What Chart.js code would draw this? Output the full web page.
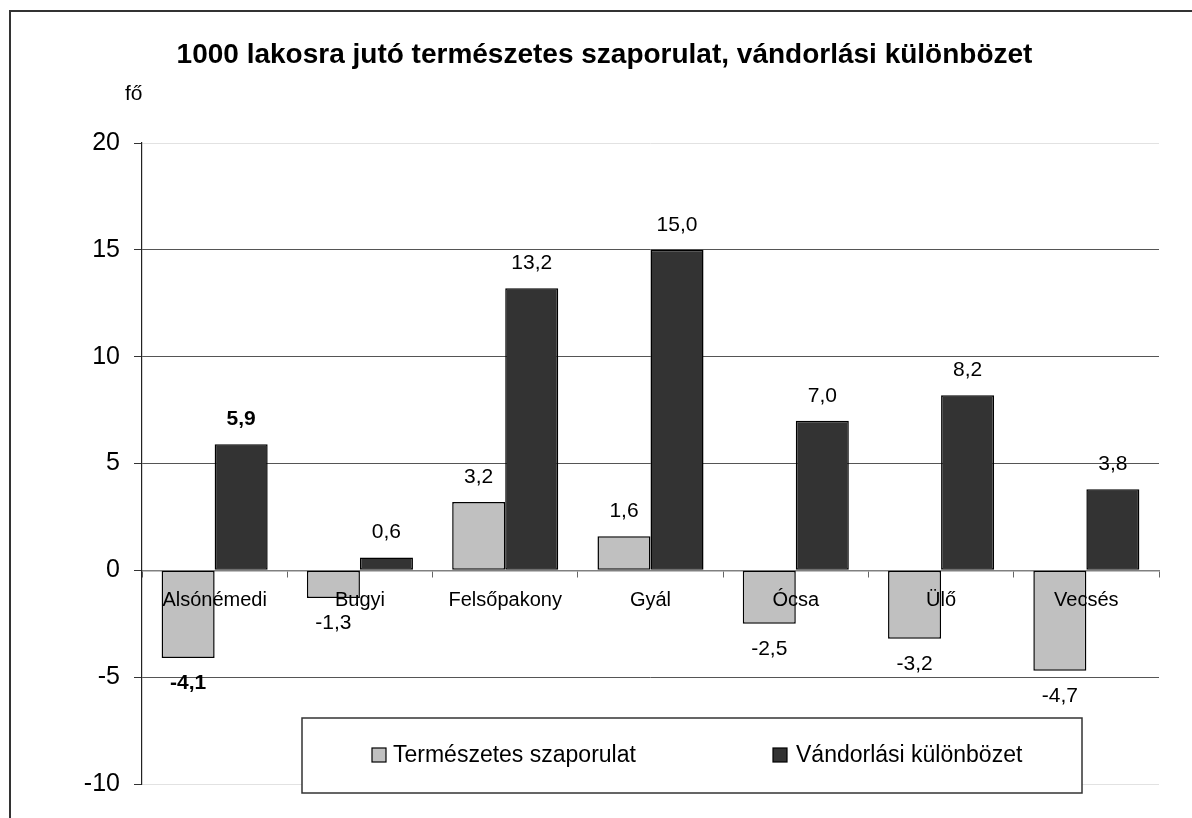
<!DOCTYPE html>
<html>
<head>
<meta charset="utf-8">
<script src="https://cdn.jsdelivr.net/npm/chart.js@4.4.1/dist/chart.umd.min.js"></script>
<style>
  html, body { margin: 0; padding: 0; background: #fff; overflow: hidden; }
  #wrap { position: absolute; left: 0; top: 0; width: 1192px; height: 818px; }
  #chart { position: absolute; left: 0; top: 0; }
  #frame { position: absolute; left: 9px; top: 10px; width: 1191px; height: 900px;
           border: 2px solid #333; box-sizing: border-box; pointer-events: none; }
</style>
</head>
<body>
<div id="wrap">
  <canvas id="chart" width="1192" height="818"></canvas>
  <div id="frame"></div>
</div>
<script>
// --- data ---
const categories = ['Alsónémedi', 'Bugyi', 'Felsőpakony', 'Gyál', 'Ócsa', 'Ülő', 'Vecsés'];
const naturalIncrease = [-4.1, -1.3, 3.2, 1.6, -2.5, -3.2, -4.7];
const migrationBalance = [5.9, 0.6, 13.2, 15.0, 7.0, 8.2, 3.8];
const seriesNames = ['Természetes szaporulat', 'Vándorlási különbözet'];
const seriesColors = ['#c0c0c0', '#333333'];
const yTicks = [-10, -5, 0, 5, 10, 15, 20];
const boldCategory = 'Alsónémedi';
const chartTitle = '1000 lakosra jutó természetes szaporulat, vándorlási különbözet';
const unitLabel = 'fő';

const FONT = '"Liberation Sans", Arial, Helvetica, sans-serif';

function fmt(v) {
    return v.toFixed(1).replace('.', ',');
}

// value labels above / below each bar
const valueLabels = {
    id: 'valueLabels',
    afterDatasetsDraw(chart) {
        const ctx = chart.ctx;
        ctx.save();
        ctx.fillStyle = '#000';
        ctx.textAlign = 'center';
        ctx.textBaseline = 'middle';
        chart.data.datasets.forEach((ds, di) => {
            const meta = chart.getDatasetMeta(di);
            meta.data.forEach((bar, i) => {
                const v = ds.data[i];
                const bold = chart.data.labels[i] === boldCategory;
                ctx.font = (bold ? 'bold ' : '') + '21px ' + FONT;
                const y = v >= 0 ? bar.y - 25 : bar.y + 25;
                ctx.fillText(fmt(v), bar.x, y);
            });
        });
        ctx.restore();
    }
};

// unit label + boxed legend inside the plot area
const extras = {
    id: 'extras',
    afterDraw(chart) {
        const ctx = chart.ctx;
        const area = chart.chartArea;
        ctx.save();

        // unit
        ctx.fillStyle = '#000';
        ctx.font = '21px ' + FONT;
        ctx.textAlign = 'left';
        ctx.textBaseline = 'alphabetic';
        ctx.fillText(unitLabel, area.left - 17, area.top - 43);

        // legend box
        const bx = 302, by = 718, bw = 780, bh = 75;
        ctx.fillStyle = '#fff';
        ctx.fillRect(bx, by, bw, bh);
        ctx.strokeStyle = '#333';
        ctx.lineWidth = 1.5;
        ctx.strokeRect(bx, by, bw, bh);

        const items = [
            { sq: 372, tx: 393 },
            { sq: 773, tx: 796 }
        ];
        ctx.font = '23px ' + FONT;
        ctx.textBaseline = 'middle';
        chart.data.datasets.forEach((ds, i) => {
            const it = items[i];
            ctx.fillStyle = ds.backgroundColor;
            ctx.fillRect(it.sq, 748, 14, 14);
            ctx.strokeStyle = '#000';
            ctx.lineWidth = 1.2;
            ctx.strokeRect(it.sq, 748, 14, 14);
            ctx.fillStyle = '#000';
            ctx.fillText(ds.label, it.tx, 756);
        });
        ctx.restore();
    }
};

function initializeChart() {
    const canvas = document.getElementById('chart');
    if (!canvas) {
        console.error('chart canvas not found');
        return;
    }
    const ctx = canvas.getContext('2d');

    new Chart(ctx, {
        type: 'bar',
        data: {
            labels: categories,
            datasets: [
                {
                    label: seriesNames[0],
                    data: naturalIncrease,
                    backgroundColor: seriesColors[0],
                    borderColor: '#000',
                    borderWidth: 1.5,
                    borderSkipped: false
                },
                {
                    label: seriesNames[1],
                    data: migrationBalance,
                    backgroundColor: seriesColors[1],
                    borderColor: '#000',
                    borderWidth: 1.5,
                    borderSkipped: false
                }
            ]
        },
        options: {
            responsive: false,
            animation: false,
            devicePixelRatio: 1,
            categoryPercentage: 0.73,
            barPercentage: 1.0,
            layout: {
                padding: { left: 50, right: 33, top: 0, bottom: 34 }
            },
            scales: {
                x: {
                    position: { y: 0 },
                    grid: {
                        drawOnChartArea: false,
                        drawTicks: true,
                        tickLength: 6,
                        color: '#666',
                        offset: true
                    },
                    border: { color: '#808080', width: 1.5 },
                    ticks: {
                        z: 1, // category names sit on top of the bars
                        color: '#000',
                        font: { family: FONT, size: 20 },
                        padding: 12,
                        maxRotation: 0,
                        autoSkip: false
                    }
                },
                y: {
                    min: -10,
                    max: 20,
                    afterBuildTicks(scale) {
                        scale.ticks = yTicks.map(v => ({ value: v }));
                    },
                    afterFit(scale) {
                        scale.width = 92;
                    },
                    grid: {
                        color: (c) => (c.tick && (c.tick.value === 20 || c.tick.value === -10)) ? '#e2e2e2' : '#555',
                        lineWidth: 1,
                        tickLength: 8,
                        tickColor: '#333'
                    },
                    border: { color: '#222', width: 1.2 },
                    ticks: {
                        color: '#000',
                        font: { family: FONT, size: 25 },
                        padding: 14
                    }
                }
            },
            plugins: {
                legend: { display: false },
                tooltip: { enabled: false },
                title: {
                    display: true,
                    text: chartTitle,
                    color: '#000',
                    font: { family: FONT, size: 28, weight: 'bold' },
                    padding: { top: 38, bottom: 71.4 }
                }
            }
        },
        plugins: [valueLabels, extras]
    });
}

initializeChart();
</script>
</body>
</html>
